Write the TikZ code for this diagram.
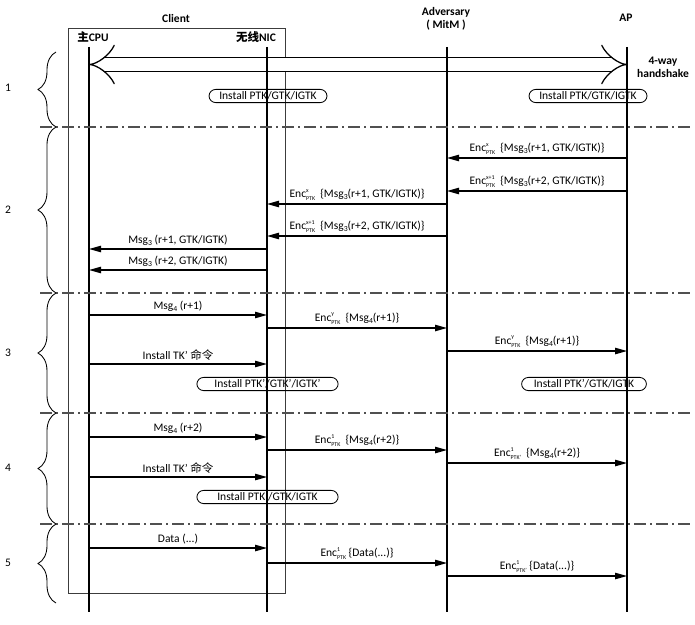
\documentclass[tikz,border=0pt]{standalone}
\usepackage{fontspec}
\setmainfont{Carlito}
\newfontfamily\cjk{Noto Sans CJK SC}
\usetikzlibrary{arrows.meta, decorations.pathreplacing}
\usepackage{xcolor}
\definecolor{sepGray}{RGB}{80, 80, 80}
\definecolor{boxGray}{RGB}{60, 60, 60}

\newcommand{\Enc}[2]{Enc\raisebox{-0.55ex}{\fontsize{4.2}{4.6}\selectfont\shortstack[l]{#1\\PTK#2}}}
\newcommand{\Msg}[1]{Msg\raisebox{-0.3ex}{\fontsize{5.5}{5.5}\selectfont #1}}
\newcommand{\msgline}[4]{\draw[msg] (#1 |- 0,#3) -- (#2 |- 0,#3) node[lbl, midway] {#4};}

\begin{document}
\begin{tikzpicture}[x=0.025cm, y=-0.025cm,
          font=\fontsize{8.2}{9.5}\selectfont,
          hdr/.style={font=\fontsize{8.2}{9.5}\selectfont\bfseries, align=center},
          life/.style={line width=1.1pt},
          msg/.style={line width=0.9pt, -{Triangle[length=0.3cm, width=0.16cm]}},
          lbl/.style={above=1pt, inner sep=1pt},
          inst/.style={draw, rounded corners=0.17cm, minimum height=0.33cm,
                       inner sep=1.5pt, line width=0.6pt},
          sep/.style={sepGray, line width=0.8pt,
                      dash pattern=on 0.3cm off 0.1cm on 0.05cm off 0.1cm},
          brc/.style={decorate, decoration={brace, amplitude=0.45cm}, line width=0.6pt}]
        \useasboundingbox (0,0) rectangle (695,624);

        % headers
        \draw[boxGray, line width=0.6pt] (68,28) rectangle (285,593);
        \node[hdr] (client) at (176,18) {Client};
        \node[hdr] (cpuH) at (93,37) {{\cjk 主}CPU};
        \node[hdr] (nicH) at (256,37) {{\cjk 无线}NIC};
        \node[hdr] (advH) at (446,19) {Adversary\\( MitM )};
        \node[hdr] (apH) at (626,18) {AP};
        \node[hdr] (hs) at (663,67) {4-way\\handshake};

        \coordinate (cpu) at (89,47);  \coordinate (cpuE) at (89,612);
        \coordinate (nic) at (267,47); \coordinate (nicE) at (267,612);
        \coordinate (adv) at (447,47); \coordinate (advE) at (447,612);
        \coordinate (ap) at (627,47);  \coordinate (apE) at (627,612);

        % handshake
        \draw[line width=0.9pt, double, double distance=0.33cm, {Implies}-{Implies}]
          (cpu |- 0,64.5) -- (ap |- 0,64.5);

        \draw[life] (cpu) -- (cpuE);
        \draw[life] (nic) -- (nicE);
        \draw[life] (adv) -- (advE);
        \draw[life] (ap) -- (apE);

        % phases
        \draw[sep] (40,127) -- (690,127);
        \draw[sep] (40,293) -- (690,293);
        \draw[sep] (40,413) -- (690,413);
        \draw[sep] (40,524) -- (690,524);
        \draw[brc] (56,127) -- (56,52);
        \draw[brc] (56,293) -- (56,127);
        \draw[brc] (56,413) -- (56,293);
        \draw[brc] (56,524) -- (56,413);
        \draw[brc] (56,603) -- (56,524);
        \node (p1) at (8,88) {1};
        \node (p2) at (8,210) {2};
        \node (p3) at (8,353) {3};
        \node (p4) at (8,468) {4};
        \node (p5) at (8,563) {5};

        \node[inst, minimum width=2.95cm] (ins1a) at (268,96) {Install PTK/GTK/IGTK};
        \node[inst, minimum width=2.95cm] (ins1b) at (588,96) {Install PTK/GTK/IGTK};

        \msgline{ap}{adv}{158}{\Enc{x}{}\ \ \{\Msg{3}(r+1, GTK/IGTK)\}}
        \msgline{ap}{adv}{191}{\Enc{x+1}{}\ \ \{\Msg{3}(r+2, GTK/IGTK)\}}
        \msgline{adv}{nic}{204}{\Enc{x}{}\ \ \{\Msg{3}(r+1, GTK/IGTK)\}}
        \msgline{adv}{nic}{236}{\Enc{x+1}{}\ \ \{\Msg{3}(r+2, GTK/IGTK)\}}
        \msgline{nic}{cpu}{249}{\Msg{3} (r+1, GTK/IGTK)}
        \msgline{nic}{cpu}{270}{\Msg{3} (r+2, GTK/IGTK)}

        \msgline{cpu}{nic}{315}{\Msg{4} (r+1)}
        \msgline{nic}{adv}{328}{\Enc{y}{}\ \ \{\Msg{4}(r+1)\}}
        \msgline{adv}{ap}{351}{\Enc{y}{}\ \ \{\Msg{4}(r+1)\}}
        \msgline{cpu}{nic}{364}{Install TK' {\cjk 命令}}
        \node[inst, minimum width=3.53cm] (ins3a) at (267.5,384) {Install PTK'/GTK'/IGTK'};
        \node[inst, minimum width=3.12cm] (ins3b) at (584,384) {Install PTK'/GTK/IGTK};

        \msgline{cpu}{nic}{437}{\Msg{4} (r+2)}
        \msgline{nic}{adv}{450}{\Enc{1}{}\ \ \{\Msg{4}(r+2)\}}
        \msgline{adv}{ap}{463}{\Enc{1}{'}\ \ \{\Msg{4}(r+2)\}}
        \msgline{cpu}{nic}{477}{Install TK' {\cjk 命令}}
        \node[inst, minimum width=3.53cm] (ins4a) at (267.5,497) {Install PTK'/GTK/IGTK};

        \msgline{cpu}{nic}{548}{Data (...)}
        \msgline{nic}{adv}{563}{\Enc{1}{}\ \{Data(...)\}}
        \msgline{adv}{ap}{576}{\Enc{1}{'}\ \{Data(...)\}}
      \end{tikzpicture}
\end{document}
